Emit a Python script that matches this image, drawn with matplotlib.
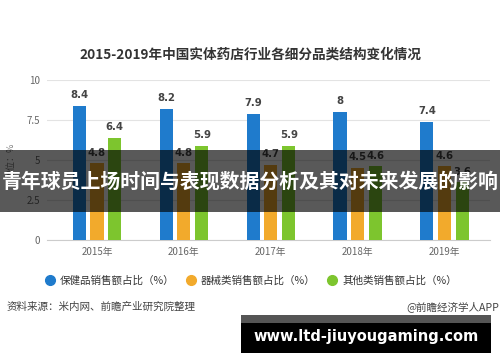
import numpy as np
import matplotlib
matplotlib.use("Agg")
import matplotlib.pyplot as plt
from matplotlib.patches import Rectangle
from matplotlib.lines import Line2D

plt.rcParams['font.family'] = ['Noto Sans CJK SC', 'DejaVu Sans']

# datos
anios = ['2015年', '2016年', '2017年', '2018年', '2019年']
salud = [8.4, 8.2, 7.9, 8, 7.4]
equipos = [4.8, 4.8, 4.7, 4.5, 4.6]
otros = [6.4, 5.9, 5.9, 4.6, 3.6]
series_nombres = ['保健品销售额占比（%）', '器械类销售额占比（%）', '其他类销售额占比（%）']
yticks = [0, 2.5, 5, 7.5, 10]
ytick_labels = ['0', '2.5', '5', '7.5', '10']

colores = ['#1f7bcc', '#f2aa2c', '#7dc52e']

fig = plt.figure(figsize=(5, 3.62), dpi=100)
ax = fig.add_axes([0.094, 0.337, 0.886, 0.442])

x = np.arange(len(anios))
ancho = 0.15
desp = 0.205
for i, (vals, c) in enumerate(zip([salud, equipos, otros], colores)):
    pos = x + (i - 1) * desp
    ax.bar(pos, vals, width=ancho, color=c, zorder=3)
    for px, v in zip(pos, vals):
        ax.text(px, v + 0.35, f'{v:g}', ha='center', va='bottom',
                fontsize=7.3, fontweight='bold', color='#444444', family='DejaVu Sans')

ax.set_xlim(-0.575, 4.52)
ax.set_ylim(0, 10)
ax.set_yticks(yticks)
ax.set_yticklabels(ytick_labels)
ax.set_xticks(x)
ax.set_xticklabels(anios)
ax.tick_params(axis='both', length=0, labelsize=7, colors='#666666', pad=5)
ax.grid(axis='y', color='#e3e3e3', linewidth=0.8, zorder=0)
for s in ['top', 'right', 'left']:
    ax.spines[s].set_visible(False)
ax.spines['bottom'].set_color('#cccccc')
ax.set_ylabel('单位：%', fontsize=6.5, color='#777777', labelpad=8)

# titulo
fig.text(0.5, 1 - 55 / 362, '2015-2019年中国实体药店行业各细分品类结构变化情况',
         ha='center', va='center', fontsize=9.8, fontweight='bold', color='#333333')

# leyenda
manejadores = [Line2D([0], [0], marker='o', linestyle='', markersize=7,
                      markerfacecolor=c, markeredgecolor=c) for c in colores]
fig.legend(manejadores, series_nombres, loc='center', bbox_to_anchor=(0.5, 1 - 281 / 362),
           ncol=3, frameon=False, fontsize=7.6, handletextpad=0.4, columnspacing=0.9,
           handlelength=1.2, labelcolor='#333333')

# fuente
fig.text(0.014, 1 - 307 / 362, '资料来源：米内网、前瞻产业研究院整理',
         ha='left', va='center', fontsize=7.6, color='#444444')
fig.text(0.998, 1 - 307 / 362, '@前瞻经济学人APP',
         ha='right', va='center', fontsize=7.6, color='#444444')

# franja superpuesta
fig.patches.append(Rectangle((0, 1 - 212 / 362), 1, 62 / 362, transform=fig.transFigure,
                             facecolor='black', alpha=0.65, zorder=10))
fig.text(0.5, 1 - 181 / 362, '青年球员上场时间与表现数据分析及其对未来发展的影响',
         ha='center', va='center', fontsize=14.3, fontweight='bold', color='white', zorder=11)

# sello inferior
fig.patches.append(Rectangle((241 / 500, 1 - 353 / 362), 250 / 500, 38 / 362,
                             transform=fig.transFigure, facecolor='black', zorder=10))
fig.patches.append(Rectangle((241 / 500, 1 - 323 / 362), 250 / 500, 8 / 362,
                             transform=fig.transFigure, facecolor='#555555', zorder=10))
fig.text(366 / 500, 1 - 337 / 362, 'www.ltd-jiuyougaming.com', ha='center', va='center',
         fontsize=10.5, fontweight='bold', color='white', family='DejaVu Sans', zorder=11)

fig.savefig('out.png', dpi=100)
